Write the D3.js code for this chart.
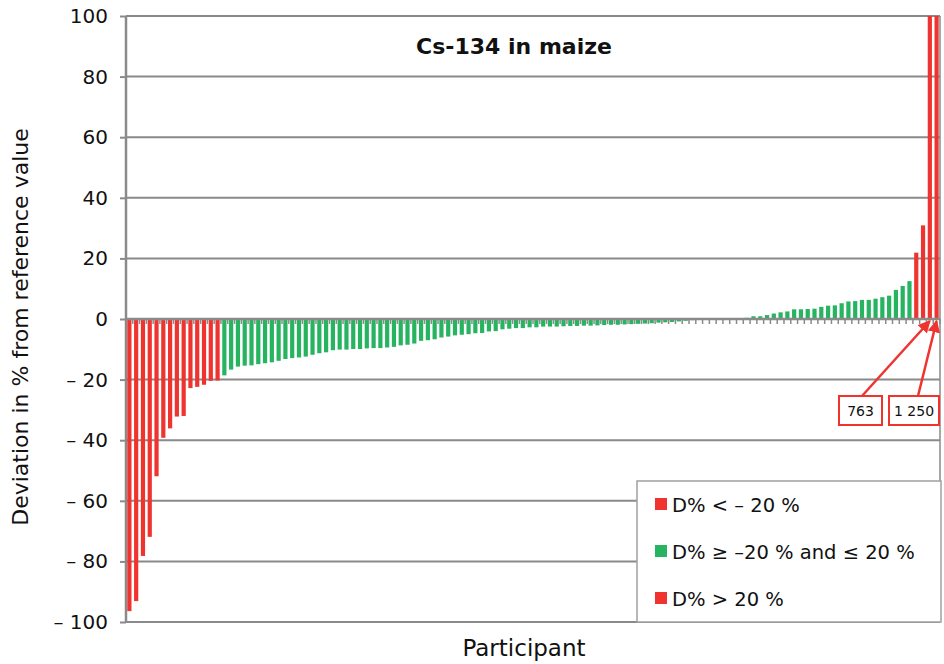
<!DOCTYPE html>
<html>
<head>
<meta charset="utf-8">
<script src="https://cdn.jsdelivr.net/npm/d3@7"></script>
<style>
    html, body { margin: 0; padding: 0; background: #ffffff; }
    svg { display: block; font-family: 'DejaVu Sans', Verdana, sans-serif; }
</style>
</head>
<body>
<div id="chart"></div>
<script>
// Deviation (%) per participant, sorted ascending
const DEVIATIONS = [
    -96.4, -93.1, -78.2, -71.9, -51.9, -39.2, -36.1, -32.2, -32.0, -22.8, -22.4, -21.7, -20.4, -20.3,
    -18.6, -16.7, -15.7, -15.4, -15.3, -14.9, -14.6, -14.3, -13.8, -13.2, -12.9, -12.7, -12.4, -11.8, -11.3, -11.0, -10.3, -10.1,
    -10.1, -9.9, -9.9, -9.7, -9.6, -9.6, -9.4, -9.2, -8.7, -8.5, -8.1, -7.2, -7.0, -6.7, -6.1, -5.8, -5.4, -5.2,
    -5.0, -4.7, -4.6, -4.1, -4.0, -3.4, -3.2, -3.0, -3.0, -2.75, -2.75, -2.5, -2.5, -2.5, -2.4, -2.3, -2.3, -2.2, -2.2, -2.1,
    -2.0, -1.9, -1.9, -1.8, -1.7, -1.6, -1.5, -1.4, -1.2, -1.1, -1.0, -0.8, -0.6, -0.4,
    0, 0, 0, 0, 0, 0, 0,
    0.4, 0.9, 0.9, 1.3, 1.8, 2.2, 2.5, 3.2, 3.2, 3.3, 3.4, 4.0, 4.4, 4.5, 5.2, 5.8, 5.9, 6.3, 6.3, 6.7, 7.2, 7.7, 9.6, 10.9, 12.5,
    21.9, 30.9, 763, 1250
];
const PARTICIPANTS = DEVIATIONS.map((value, index) => index + 1);
const Y_TICKS = [-100, -80, -60, -40, -20, 0, 20, 40, 60, 80, 100];
const LEGEND_LABELS = ['D% < \u2013 20 %', 'D% \u2265 \u201320 % and \u2264 20 %', 'D% > 20 %'];
const LEGEND_KEYS = ['low', 'ok', 'high'];
// Off-scale bars that get a value callout
const CALLOUTS = [
    { participant: 119, label: '763' },
    { participant: 120, label: '1 250' }
];

const COLORS = { low: '#ef3430', ok: '#27b461', high: '#ef3430' };
const GRID_COLOR = '#8a8a8a';

function classify(value) {
    if (value < -20) return 'low';
    if (value > 20) return 'high';
    return 'ok';
}

function formatTick(value) {
    return value < 0 ? `\u2013 ${Math.abs(value)}` : String(value);
}

function renderChart(container) {
    const width = 944;
    const height = 664;
    const margin = { top: 16, right: 4, bottom: 42, left: 126 };
    const innerWidth = width - margin.left - margin.right;
    const innerHeight = height - margin.top - margin.bottom;

    const svg = d3.select(container).append('svg')
        .attr('width', width)
        .attr('height', height);

    const chartGroup = svg.append('g')
        .attr('transform', `translate(${margin.left},${margin.top})`);

    const xScale = d3.scaleBand()
        .domain(PARTICIPANTS)
        .range([0, innerWidth])
        .paddingInner(0.38)
        .paddingOuter(0.19);

    const yScale = d3.scaleLinear()
        .domain([-100, 100])
        .range([innerHeight, 0])
        .clamp(true);

    // horizontal grid + left axis ticks
    chartGroup.append('g')
        .call(d3.axisLeft(yScale).tickValues(Y_TICKS).tickFormat(formatTick).tickSize(6).tickPadding(12))
        .call((group) => group.select('.domain').remove())
        .call((group) => group.selectAll('line').attr('stroke', GRID_COLOR).attr('stroke-width', 2))
        .call((group) => group.selectAll('text')
            .attr('fill', '#111')
            .attr('font-size', 20)
            .attr('font-family', "'DejaVu Sans', Verdana, sans-serif"));

    chartGroup.append('g')
        .selectAll('line')
        .data(Y_TICKS)
        .enter()
        .append('line')
        .attr('x1', 0)
        .attr('x2', innerWidth)
        .attr('y1', (datum) => yScale(datum))
        .attr('y2', (datum) => yScale(datum))
        .attr('stroke', GRID_COLOR)
        .attr('stroke-width', 2);

    // left and right frame lines
    chartGroup.append('line')
        .attr('x1', 0).attr('x2', 0)
        .attr('y1', 0).attr('y2', innerHeight)
        .attr('stroke', GRID_COLOR)
        .attr('stroke-width', 2.5);

    chartGroup.append('line')
        .attr('x1', innerWidth).attr('x2', innerWidth)
        .attr('y1', 0).attr('y2', innerHeight)
        .attr('stroke', GRID_COLOR)
        .attr('stroke-width', 1.5);

    chartGroup.selectAll('.bar')
        .data(DEVIATIONS)
        .enter()
        .append('rect')
        .attr('class', 'bar')
        .attr('x', (datum, index) => xScale(PARTICIPANTS[index]))
        .attr('width', xScale.bandwidth())
        .attr('y', (datum) => Math.min(yScale(datum), yScale(0)))
        .attr('height', (datum) => Math.abs(yScale(datum) - yScale(0)))
        .attr('fill', (datum) => COLORS[classify(datum)]);

    // zero line and category ticks
    const step = xScale.step();
    chartGroup.append('g')
        .selectAll('line')
        .data(d3.range(PARTICIPANTS.length + 1))
        .enter()
        .append('line')
        .attr('x1', (datum) => datum * step)
        .attr('x2', (datum) => datum * step)
        .attr('y1', yScale(0))
        .attr('y2', yScale(0) + 5)
        .attr('stroke', GRID_COLOR)
        .attr('stroke-width', 1.5);

    chartGroup.append('line')
        .attr('x1', 0).attr('x2', innerWidth)
        .attr('y1', yScale(0)).attr('y2', yScale(0))
        .attr('stroke', GRID_COLOR)
        .attr('stroke-width', 2.5);

    svg.append('text')
        .attr('x', 514)
        .attr('y', 54)
        .attr('text-anchor', 'middle')
        .attr('font-size', 22)
        .attr('font-weight', 'bold')
        .attr('fill', '#111')
        .text('Cs-134 in maize');

    svg.append('text')
        .attr('transform', 'rotate(-90)')
        .attr('x', -327)
        .attr('y', 28)
        .attr('text-anchor', 'middle')
        .attr('font-size', 22)
        .attr('fill', '#111')
        .text('Deviation in % from reference value');

    svg.append('text')
        .attr('x', 524)
        .attr('y', 656)
        .attr('text-anchor', 'middle')
        .attr('font-size', 23)
        .attr('fill', '#111')
        .text('Participant');

    renderCallouts(svg, chartGroup, xScale, yScale, margin);
    renderLegend(svg);
}

function renderCallouts(svg, chartGroup, xScale, yScale, margin) {
    const defs = svg.append('defs');
    defs.append('marker')
        .attr('id', 'arrow-head')
        .attr('viewBox', '0 0 10 10')
        .attr('refX', 9)
        .attr('refY', 5)
        .attr('markerWidth', 5)
        .attr('markerHeight', 5)
        .attr('orient', 'auto')
        .append('path')
        .attr('d', 'M0,0 L10,5 L0,10 z')
        .attr('fill', COLORS.high);

    const boxes = [
        { x: 839, y: 396, width: 43, height: 29, tail: [862, 396] },
        { x: 889, y: 396, width: 50, height: 29, tail: [918, 396] }
    ];

    CALLOUTS.forEach((callout, index) => {
        const box = boxes[index];
        const tipX = margin.left + xScale(callout.participant) + xScale.bandwidth() / 2;
        const tipY = margin.top + yScale(0) + 2;

        svg.append('line')
            .attr('x1', box.tail[0])
            .attr('y1', box.tail[1])
            .attr('x2', tipX)
            .attr('y2', tipY)
            .attr('stroke', COLORS.high)
            .attr('stroke-width', 2.5)
            .attr('marker-end', 'url(#arrow-head)');

        svg.append('rect')
            .attr('x', box.x)
            .attr('y', box.y)
            .attr('width', box.width)
            .attr('height', box.height)
            .attr('fill', '#ffffff')
            .attr('stroke', COLORS.high)
            .attr('stroke-width', 2);

        svg.append('text')
            .attr('x', box.x + box.width / 2)
            .attr('y', box.y + 20)
            .attr('text-anchor', 'middle')
            .attr('font-size', 14)
            .attr('fill', '#111')
            .text(callout.label);
    });
}

function renderLegend(svg) {
    const legend = svg.append('g')
        .attr('transform', 'translate(637,481)');

    legend.append('rect')
        .attr('width', 304)
        .attr('height', 141)
        .attr('fill', '#ffffff')
        .attr('stroke', '#a0a0a0')
        .attr('stroke-width', 1.5);

    const rowScale = d3.scalePoint()
        .domain(LEGEND_KEYS)
        .range([23, 117]);

    const items = legend.selectAll('.legend-item')
        .data(LEGEND_KEYS)
        .enter()
        .append('g')
        .attr('class', 'legend-item')
        .attr('transform', (datum) => `translate(18,${rowScale(datum)})`);

    items.append('rect')
        .attr('y', -6)
        .attr('width', 12)
        .attr('height', 12)
        .attr('fill', (datum) => COLORS[datum]);

    items.append('text')
        .attr('x', 17)
        .attr('y', 7.5)
        .attr('font-size', 19.5)
        .attr('fill', '#111')
        .text((datum, index) => LEGEND_LABELS[index]);
}

renderChart(document.getElementById('chart'));
</script>
</body>
</html>
